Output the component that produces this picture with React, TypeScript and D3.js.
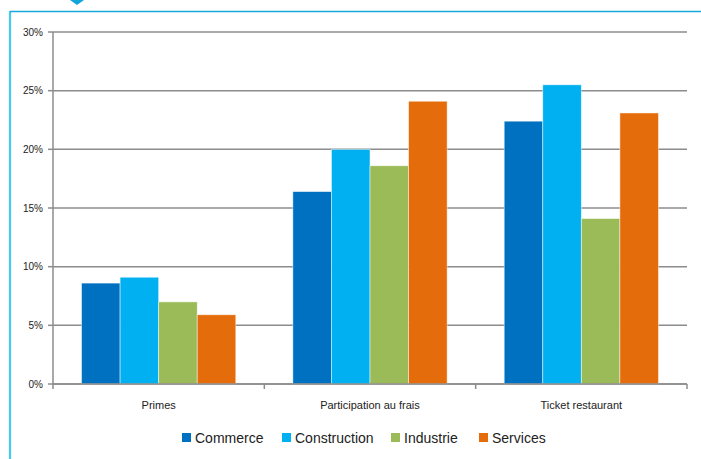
import React from "react";
import * as d3 from "d3";

const categories = ["Primes", "Participation au frais", "Ticket restaurant"];
const seriesNames = ["Commerce", "Construction", "Industrie", "Services"];
const commerce = [8.6, 16.4, 22.4];
const construction = [9.1, 20.0, 25.5];
const industrie = [7.0, 18.6, 14.1];
const services = [5.9, 24.1, 23.1];
const yTicks = [0, 5, 10, 15, 20, 25, 30];
const colors = ["#0070C0", "#00B0F0", "#9BBB59", "#E46C0A"];

const seriesValues = [commerce, construction, industrie, services];

const W = 701;
const H = 459;
const left = 53;
const right = 687;
const top = 32;
const bottom = 384;

export default function App() {
  const x = d3.scaleBand<string>().domain(categories).range([left, right]).paddingInner(0).paddingOuter(0);
  const groupW = x.bandwidth() * 0.73;
  const x1 = d3
    .scaleBand<string>()
    .domain(seriesNames)
    .range([(x.bandwidth() - groupW) / 2, (x.bandwidth() + groupW) / 2])
    .padding(0);
  const y = d3.scaleLinear().domain([0, 30]).range([bottom, top]);

  const legendX = [182, 282, 391, 479];

  return (
    <svg
      width={W}
      height={H}
      style={{ position: "absolute", left: 0, top: 0, background: "#fff" }}
      fontFamily="'Liberation Sans', Arial, sans-serif"
    >
      {/* frame */}
      <line x1={10} x2={10} y1={11} y2={H} stroke="#45C9EC" strokeWidth={2.2} />
      <line x1={10} x2={W} y1={11.5} y2={11.5} stroke="#1AA8DC" strokeWidth={1.3} />
      <path d="M70,0 L84,0 L77,5 Z" fill="#12A4DA" />

      {/* gridlines */}
      {yTicks.map((t) => (
        <g key={t}>
          <line x1={left} x2={right} y1={y(t)} y2={y(t)} stroke="#8C8C8C" strokeWidth={1.5} />
          <line x1={left - 5} x2={left} y1={y(t)} y2={y(t)} stroke="#8C8C8C" strokeWidth={1.5} />
          <text x={43} y={y(t) + 3.5} fontSize={10} textAnchor="end" fill="#222">
            {t}%
          </text>
        </g>
      ))}
      {/* y axis */}
      <line x1={left} x2={left} y1={top} y2={bottom} stroke="#8C8C8C" strokeWidth={1.5} />

      {/* bars */}
      {categories.map((c, ci) => (
        <g key={c} transform={`translate(${x(c)},0)`}>
          {seriesNames.map((s, si) => {
            const v = seriesValues[si][ci];
            return (
              <rect
                key={s}
                x={x1(s)!}
                y={y(v)}
                width={x1.bandwidth()}
                height={y(0) - y(v)}
                fill={colors[si]}
                stroke="#ffffff"
                strokeOpacity={0.6}
                strokeWidth={0.8}
              />
            );
          })}
        </g>
      ))}

      {/* x axis */}
      <line x1={left} x2={right} y1={bottom} y2={bottom} stroke="#8C8C8C" strokeWidth={1.5} />
      {[0, 1, 2, 3].map((i) => {
        const xx = left + i * x.step();
        return <line key={i} x1={xx} x2={xx} y1={bottom} y2={bottom + 5} stroke="#8C8C8C" strokeWidth={1.5} />;
      })}
      {categories.map((c) => (
        <text key={c} x={x(c)! + x.bandwidth() / 2} y={409} fontSize={11} textAnchor="middle" fill="#222">
          {c}
        </text>
      ))}

      {/* legend */}
      {seriesNames.map((s, i) => (
        <g key={s}>
          <rect x={legendX[i]} y={433} width={9} height={9} fill={colors[i]} />
          <text x={legendX[i] + 13} y={443} fontSize={14} fill="#222">
            {s}
          </text>
        </g>
      ))}
    </svg>
  );
}
